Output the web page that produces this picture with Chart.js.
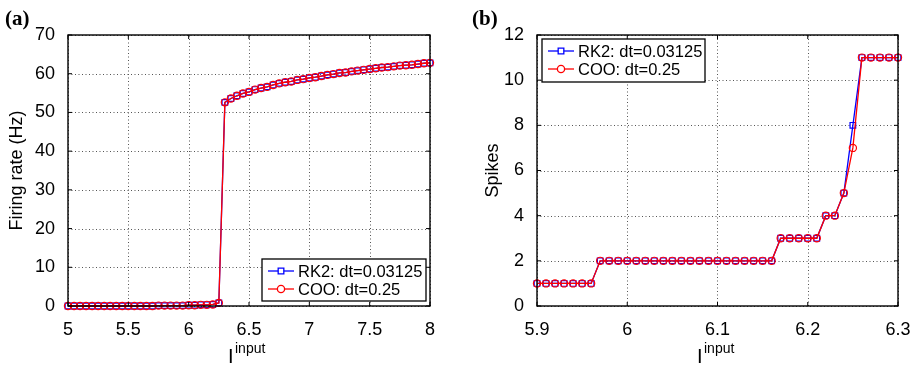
<!DOCTYPE html>
<html>
<head>
<meta charset="utf-8">
<script src="https://cdn.jsdelivr.net/npm/chart.js@4/dist/chart.umd.min.js"></script>
<style>
  body { margin: 0; background: #fff; }
  #wrap { position: relative; width: 918px; height: 365px; }
  canvas { position: absolute; top: 0; }
  #chartA { left: 0; }
  #chartB { left: 459px; }
</style>
</head>
<body>
<div id="wrap">
  <canvas id="chartA" width="459" height="365"></canvas>
  <canvas id="chartB" width="459" height="365"></canvas>
</div>
<script>
// panel (a): firing rate vs input current
const inputA = [5.00, 5.05, 5.10, 5.15, 5.20, 5.25, 5.30, 5.35, 5.40, 5.45,
  5.50, 5.55, 5.60, 5.65, 5.70, 5.75, 5.80, 5.85, 5.90, 5.95,
  6.00, 6.05, 6.10, 6.15, 6.20, 6.25, 6.30, 6.35, 6.40, 6.45,
  6.50, 6.55, 6.60, 6.65, 6.70, 6.75, 6.80, 6.85, 6.90, 6.95,
  7.00, 7.05, 7.10, 7.15, 7.20, 7.25, 7.30, 7.35, 7.40, 7.45,
  7.50, 7.55, 7.60, 7.65, 7.70, 7.75, 7.80, 7.85, 7.90, 7.95, 8.00];
const rk2Rate = [0, 0, 0, 0, 0, 0, 0, 0, 0, 0,
  0, 0, 0, 0, 0, 0.1, 0.1, 0.1, 0.1, 0.1,
  0.2, 0.2, 0.3, 0.3, 0.4, 0.8, 52.6, 53.6, 54.3, 54.9,
  55.3, 55.9, 56.3, 56.6, 57.1, 57.5, 57.8, 58.0, 58.4, 58.6,
  58.9, 59.1, 59.4, 59.7, 59.9, 60.2, 60.3, 60.6, 60.8, 61.0,
  61.2, 61.4, 61.6, 61.7, 61.9, 62.1, 62.2, 62.3, 62.5, 62.7, 62.8];
const cooRate = [0, 0, 0, 0, 0, 0, 0, 0, 0, 0,
  0, 0, 0, 0, 0, 0.1, 0.1, 0.1, 0.1, 0.1,
  0.2, 0.2, 0.3, 0.3, 0.4, 0.8, 52.6, 53.6, 54.3, 54.9,
  55.3, 55.9, 56.3, 56.6, 57.1, 57.5, 57.8, 58.0, 58.4, 58.6,
  58.9, 59.1, 59.4, 59.7, 59.9, 60.2, 60.3, 60.6, 60.8, 61.0,
  61.2, 61.4, 61.6, 61.7, 61.9, 62.1, 62.2, 62.3, 62.5, 62.7, 62.8];

// panel (b): spike count vs input current
const inputB = [5.90, 5.91, 5.92, 5.93, 5.94, 5.95, 5.96, 5.97, 5.98, 5.99,
  6.00, 6.01, 6.02, 6.03, 6.04, 6.05, 6.06, 6.07, 6.08, 6.09,
  6.10, 6.11, 6.12, 6.13, 6.14, 6.15, 6.16, 6.17, 6.18, 6.19,
  6.20, 6.21, 6.22, 6.23, 6.24, 6.25, 6.26, 6.27, 6.28, 6.29, 6.30];
const rk2Spikes = [1, 1, 1, 1, 1, 1, 1, 2, 2, 2,
  2, 2, 2, 2, 2, 2, 2, 2, 2, 2,
  2, 2, 2, 2, 2, 2, 2, 3, 3, 3,
  3, 3, 4, 4, 5, 8, 11, 11, 11, 11, 11];
const cooSpikes = [1, 1, 1, 1, 1, 1, 1, 2, 2, 2,
  2, 2, 2, 2, 2, 2, 2, 2, 2, 2,
  2, 2, 2, 2, 2, 2, 2, 3, 3, 3,
  3, 3, 4, 4, 5, 7, 11, 11, 11, 11, 11];

const seriesNames = ['RK2: dt=0.03125', 'COO: dt=0.25'];
const xTicksA = [5, 5.5, 6, 6.5, 7, 7.5, 8];
const xTicksB = [5.9, 6, 6.1, 6.2, 6.3];

const FONT = 'Liberation Sans, Arial, Helvetica, sans-serif';

function pairs(xs, ys) {
  return xs.map((x, i) => ({ x: x, y: ys[i] }));
}

// matlab look: dotted grid, frame, inward ticks, labels, panel letter, legend
const matlabDecor = {
  id: 'matlabDecor',
  beforeDatasetsDraw(chart) {
    const ctx = chart.ctx;
    const a = chart.chartArea;
    const xs = chart.scales.x, ys = chart.scales.y;
    ctx.save();
    ctx.strokeStyle = '#555';
    ctx.lineWidth = 1;
    ctx.setLineDash([1, 2.5]);
    ctx.beginPath();
    xs.ticks.forEach(t => {
      const px = Math.round(xs.getPixelForValue(t.value)) + 0.5;
      ctx.moveTo(px, a.bottom); ctx.lineTo(px, a.top);
    });
    ys.ticks.forEach(t => {
      const py = Math.round(ys.getPixelForValue(t.value)) + 0.5;
      ctx.moveTo(a.left, py); ctx.lineTo(a.right, py);
    });
    ctx.stroke();
    ctx.restore();
  },
  afterDraw(chart, args, opts) {
    const ctx = chart.ctx;
    const a = chart.chartArea;
    const xs = chart.scales.x, ys = chart.scales.y;
    ctx.save();
    ctx.strokeStyle = '#000';
    ctx.lineWidth = 1.4;
    ctx.strokeRect(a.left, a.top, a.right - a.left, a.bottom - a.top);
    ctx.lineWidth = 1;
    ctx.beginPath();
    xs.ticks.forEach(t => {
      const px = xs.getPixelForValue(t.value);
      ctx.moveTo(px, a.bottom); ctx.lineTo(px, a.bottom - 4);
      ctx.moveTo(px, a.top); ctx.lineTo(px, a.top + 4);
    });
    ys.ticks.forEach(t => {
      const py = ys.getPixelForValue(t.value);
      ctx.moveTo(a.left, py); ctx.lineTo(a.left + 4, py);
      ctx.moveTo(a.right, py); ctx.lineTo(a.right - 4, py);
    });
    ctx.stroke();

    ctx.fillStyle = '#000';
    // x label with superscript
    ctx.font = '20px ' + FONT;
    ctx.textBaseline = 'alphabetic';
    ctx.textAlign = 'left';
    ctx.fillText('I', opts.xLabelX, 363);
    ctx.font = '14px ' + FONT;
    ctx.fillText('input', opts.xLabelX + 7, 353);

    // y label
    ctx.save();
    ctx.translate(opts.yLabelX, (a.top + a.bottom) / 2);
    ctx.rotate(-Math.PI / 2);
    ctx.font = '18px ' + FONT;
    ctx.textAlign = 'center';
    ctx.textBaseline = 'middle';
    ctx.fillText(opts.yLabel, 0, 0);
    ctx.restore();

    // panel letter
    ctx.font = 'bold 21px Liberation Serif, Times New Roman, serif';
    ctx.textAlign = 'left';
    ctx.fillText(opts.letter, opts.letterX, 25);

    // legend box
    const L = opts.legend;
    ctx.fillStyle = '#fff';
    ctx.fillRect(L.x, L.y, L.w, L.h);
    ctx.strokeStyle = '#000';
    ctx.lineWidth = 1.3;
    ctx.strokeRect(L.x, L.y, L.w, L.h);
    ctx.font = '16.5px ' + FONT;
    ctx.textBaseline = 'middle';
    chart.data.datasets.forEach((ds, i) => {
      const cy = L.y + 12 + i * 18;
      ctx.strokeStyle = ds.borderColor;
      ctx.lineWidth = 1.3;
      ctx.beginPath();
      ctx.moveTo(L.x + 6, cy); ctx.lineTo(L.x + 32, cy);
      ctx.stroke();
      ctx.fillStyle = '#fff';
      Chart.helpers.drawPoint(ctx, {
        pointStyle: ds.pointStyle, radius: ds.pointRadius, rotation: 0,
        borderWidth: 1.2
      }, L.x + 19, cy);
      ctx.fillStyle = '#000';
      ctx.fillText(ds.label, L.x + 36, cy + 1);
    });
    ctx.restore();
  }
};

function makeChart(id, cfg) {
  return new Chart(document.getElementById(id), {
    type: 'line',
    data: {
      datasets: [{
        label: seriesNames[0],
        data: cfg.rk2,
        order: 2,
        borderColor: '#0000ff',
        borderWidth: 1.3,
        pointStyle: 'rect',
        pointRadius: 4,
        pointBorderColor: '#0000ff',
        pointBackgroundColor: 'rgba(0,0,0,0)',
        pointBorderWidth: 1.2,
        tension: 0,
        clip: false
      }, {
        label: seriesNames[1],
        data: cfg.coo,
        order: 1,
        borderColor: '#ff0000',
        borderWidth: 1.3,
        pointStyle: 'circle',
        pointRadius: 3.6,
        pointBorderColor: '#ff0000',
        pointBackgroundColor: 'rgba(0,0,0,0)',
        pointBorderWidth: 1.2,
        tension: 0,
        clip: false
      }]
    },
    options: {
      responsive: false,
      animation: false,
      events: [],
      layout: { padding: { top: 35, right: cfg.padRight, left: 0, bottom: 0 } },
      scales: {
        x: {
          type: 'linear',
          min: cfg.xMin, max: cfg.xMax,
          afterBuildTicks: (axis) => { axis.ticks = cfg.xTicks.map(v => ({ value: v })); },
          afterFit: (axis) => { axis.height = 59; },
          ticks: {
            color: '#000', padding: 5,
            font: { family: FONT, size: 18 },
            maxRotation: 0,
            callback: (v) => String(Number(v.toFixed(2)))
          },
          grid: { display: false },
          border: { display: false }
        },
        y: {
          min: 0, max: cfg.yMax,
          afterFit: (axis) => { axis.width = cfg.yWidth; },
          ticks: {
            color: '#000', padding: 5, stepSize: cfg.yStep,
            font: { family: FONT, size: 18 }
          },
          grid: { display: false },
          border: { display: false }
        }
      },
      plugins: {
        legend: { display: false },
        tooltip: { enabled: false },
        matlabDecor: cfg.decor
      }
    },
    plugins: [matlabDecor]
  });
}

makeChart('chartA', {
  rk2: pairs(inputA, rk2Rate), coo: pairs(inputA, cooRate),
  xMin: 5, xMax: 8, xTicks: xTicksA, yMax: 70, yStep: 10,
  yWidth: 68, padRight: 29,
  decor: {
    xLabelX: 228, yLabelX: 17, yLabel: 'Firing rate (Hz)',
    letter: '(a)', letterX: 5,
    legend: { x: 262, y: 259, w: 164, h: 42 }
  }
});

makeChart('chartB', {
  rk2: pairs(inputB, rk2Spikes), coo: pairs(inputB, cooSpikes),
  xMin: 5.9, xMax: 6.3, xTicks: xTicksB, yMax: 12, yStep: 2,
  yWidth: 78, padRight: 20,
  decor: {
    xLabelX: 238, yLabelX: 34, yLabel: 'Spikes',
    letter: '(b)', letterX: 13,
    legend: { x: 83, y: 39, w: 163, h: 43 }
  }
});
</script>
</body>
</html>
